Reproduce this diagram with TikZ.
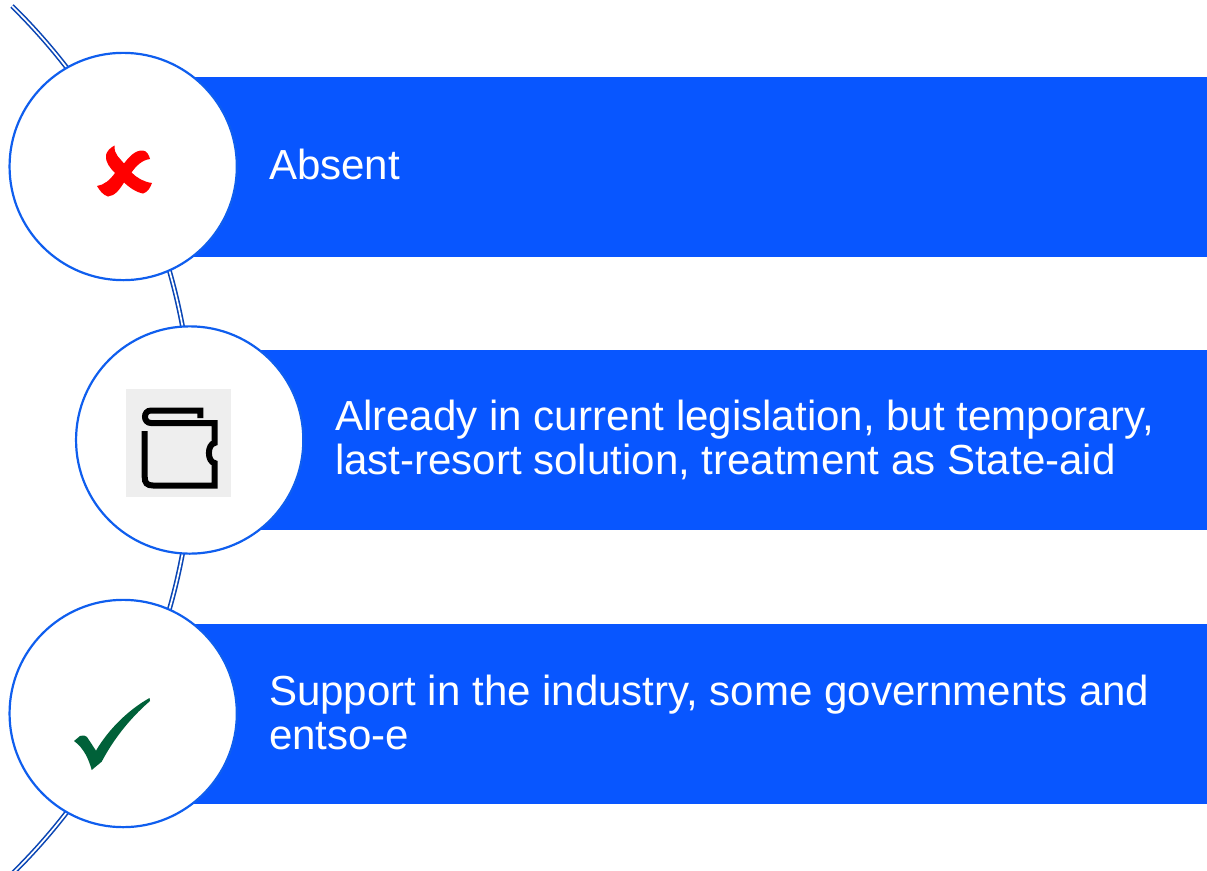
\documentclass[tikz,border=0pt]{standalone}
\usepackage{fontspec}
\setmainfont{Liberation Sans}
\usepackage{xcolor}
\usetikzlibrary{positioning}
\definecolor{barblue}{HTML}{0856FF}
\definecolor{ringblue}{HTML}{0F5EEE}
\definecolor{arcblue}{HTML}{0B46B4}
\definecolor{crossred}{HTML}{FF0000}
\definecolor{tickgreen}{HTML}{006139}
\definecolor{iconbg}{HTML}{EEEEEE}
\begin{document}
\begin{tikzpicture}[x=1pt,y=-1pt,node distance=79pt,
	every node/.style={inner sep=0,outer sep=0},
	bar/.style={rectangle,fill=barblue,anchor=west,minimum height=180pt,minimum width=#1},
	round/.style={circle,draw=ringblue,fill=white,line width=2.2pt,minimum size=227.3pt},
	label/.style={text=white,align=left,anchor=west,font=\fontsize{42.05}{44}\selectfont},
	arcline/.style={draw=arcblue,line width=1.6pt,double=white,double distance=1.7pt}]
	\useasboundingbox (0,0) rectangle (1207,870);
	\node (bar1) [bar=1017pt] at (190,167) {};
	\node (bar2) [bar=951pt] at (256,440) {};
	\node (bar3) [bar=1017pt] at (190,714) {};
	\coordinate (arctop) at (12,6);
	\coordinate (arcbot) at (12,874);
	\path
		(arctop) edge[arcline,bend left=45.5] (arcbot);
	\node (circ1) [round] at (123.2,166.5) {};
	\node (circ2) [round] at (189.7,440) {};
	\node (circ3) [round] at (123.2,713.5) {};
	\node (txt1) [label,right=of bar1.west,yshift=2.5pt] {Absent};
	\node (txt2) [label,right=of bar2.west] {Already in current legislation, but temporary,\\last-resort solution, treatment as State-aid};
	\node (txt3) [label,right=of bar3.west,yshift=1.5pt] {Support in the industry, some governments and\\entso-e};
	% cross
	\fill[crossred] (114.5,145.5) .. controls (114,155) and (120,158) .. (124,163.5)
		.. controls (129,157) and (135,150) .. (143,150.5) .. controls (147,151) and (149,155) .. (150,159)
		.. controls (142,160) and (136,166) .. (131.5,172.5) .. controls (137,178) and (144,182) .. (152,183)
		.. controls (150,188) and (148,192) .. (143,193.5) .. controls (135,192) and (129,187) .. (124,182.5)
		.. controls (120,189) and (115,196) .. (108,196.5) .. controls (103,195) and (100,191) .. (97,186)
		.. controls (104,185) and (110,180) .. (115,173) .. controls (110,168) and (105,162) .. (106,155)
		.. controls (107,151) and (110,148) .. (114.5,145.5) -- cycle;
	% wallet
	\fill[iconbg] (126,389) rectangle (231,497);
	\draw[black,line width=6pt]
		(200.3,418) -- (200.3,410.5) -- (151,410.5) .. controls (143,410.5) and (143,423) .. (151,423)
		-- (214.7,423) -- (214.7,443) .. controls (207,444) and (207,462) .. (214.7,463)
		-- (214.7,485.5) -- (153,485.5) .. controls (147,485.5) and (144.7,483) .. (144.7,477) -- (144.7,431);
	% tick
	\fill[tickgreen] (149.5,698) -- (150,701) .. controls (128,720) and (112,742) .. (101.7,761.7)
		-- (91.7,770) .. controls (89,760) and (84,748) .. (74,741) -- (80,736) .. controls (84,735) and (86,736) .. (87,737)
		-- (96,750.7) .. controls (108,730) and (128,710) .. (149.5,698) -- cycle;
\end{tikzpicture}
\end{document}
